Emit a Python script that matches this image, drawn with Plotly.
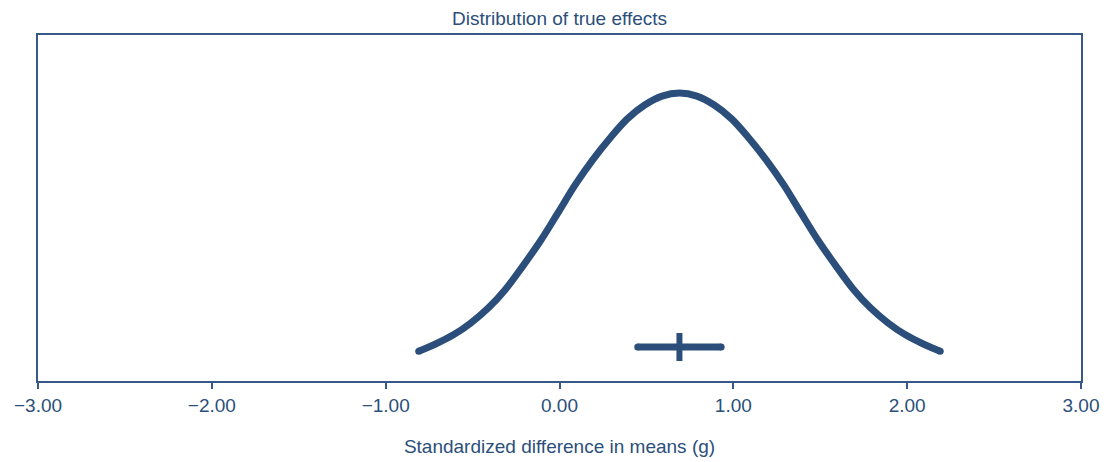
import plotly.graph_objects as go

# Curve of the distribution of true effects
effect_x = [-0.81, -0.71, -0.61, -0.51, -0.41, -0.31, -0.21, -0.11, -0.01, 0.09, 0.19,
            0.29, 0.39, 0.49, 0.59, 0.69, 0.79, 0.89, 0.99, 1.09, 1.19, 1.29, 1.39,
            1.49, 1.59, 1.69, 1.79, 1.89, 1.99, 2.09, 2.19]
density_y = [0.060, 0.075, 0.093, 0.117, 0.147, 0.185, 0.232, 0.282, 0.338, 0.395, 0.445,
             0.489, 0.528, 0.556, 0.574, 0.580, 0.574, 0.556, 0.528, 0.489, 0.445, 0.395, 0.338,
             0.282, 0.232, 0.185, 0.147, 0.117, 0.093, 0.075, 0.060]

# Summary effect with confidence interval
mean_effect = 0.69
ci_low = 0.45
ci_high = 0.93
ci_level = 0.0685

tick_vals = [-3, -2, -1, 0, 1, 2, 3]
tick_text = ["\u22123.00", "\u22122.00", "\u22121.00", "0.00", "1.00", "2.00", "3.00"]

BLUE = "#2B4F7A"
FRAME = "#36598A"
FONT = "Liberation Sans, Arial, sans-serif"

fig = go.Figure()
fig.add_trace(go.Scatter(
    x=effect_x, y=density_y, mode="lines",
    line=dict(color=BLUE, width=7, shape="spline", smoothing=1.0),
    hoverinfo="skip", showlegend=False,
))
fig.add_trace(go.Scatter(
    x=[ci_low, ci_high], y=[ci_level, ci_level], mode="lines",
    line=dict(color=BLUE, width=7),
    hoverinfo="skip", showlegend=False,
))
# rounded line ends
fig.add_trace(go.Scatter(
    x=[effect_x[0], effect_x[-1], ci_low, ci_high],
    y=[density_y[0], density_y[-1], ci_level, ci_level], mode="markers",
    marker=dict(symbol="circle", size=7, color=BLUE, line=dict(width=0)),
    hoverinfo="skip", showlegend=False,
))
fig.add_trace(go.Scatter(
    x=[mean_effect], y=[ci_level], mode="markers",
    marker=dict(symbol="line-ns", size=20, line=dict(color=BLUE, width=6)),
    hoverinfo="skip", showlegend=False,
))

fig.update_layout(
    width=1107, height=462,
    margin=dict(l=38, r=26, t=35, b=81),
    paper_bgcolor="white", plot_bgcolor="white",
    font=dict(family=FONT, color=BLUE, size=19),
    title=dict(text="Distribution of true effects", x=0.5, xref="paper",
               y=1 - 18 / 462, yref="container", yanchor="middle",
               font=dict(size=19, color=BLUE, family=FONT)),
    xaxis=dict(range=[-3, 3], tickvals=tick_vals, ticktext=tick_text,
               automargin=False,
               showgrid=False, zeroline=False, showline=True, mirror=True,
               linecolor=FRAME, linewidth=2, ticks="outside", ticklen=6,
               tickcolor=FRAME, tickwidth=2,
               tickfont=dict(size=19, color=BLUE, family=FONT),
               title=dict(text="Standardized difference in means (g)",
                          font=dict(size=19, color=BLUE, family=FONT), standoff=25)),
    yaxis=dict(range=[0, 0.697], automargin=False, showgrid=False, zeroline=False,
               showline=True, mirror=True, linecolor=FRAME, linewidth=2,
               showticklabels=False, ticks=""),
)

fig.write_html("out.html", config={"displayModeBar": False},
               post_script="document.body.style.margin='0';document.body.style.padding='0';"
                           "document.body.style.overflow='hidden';"
                           "document.documentElement.style.overflow='hidden';")
